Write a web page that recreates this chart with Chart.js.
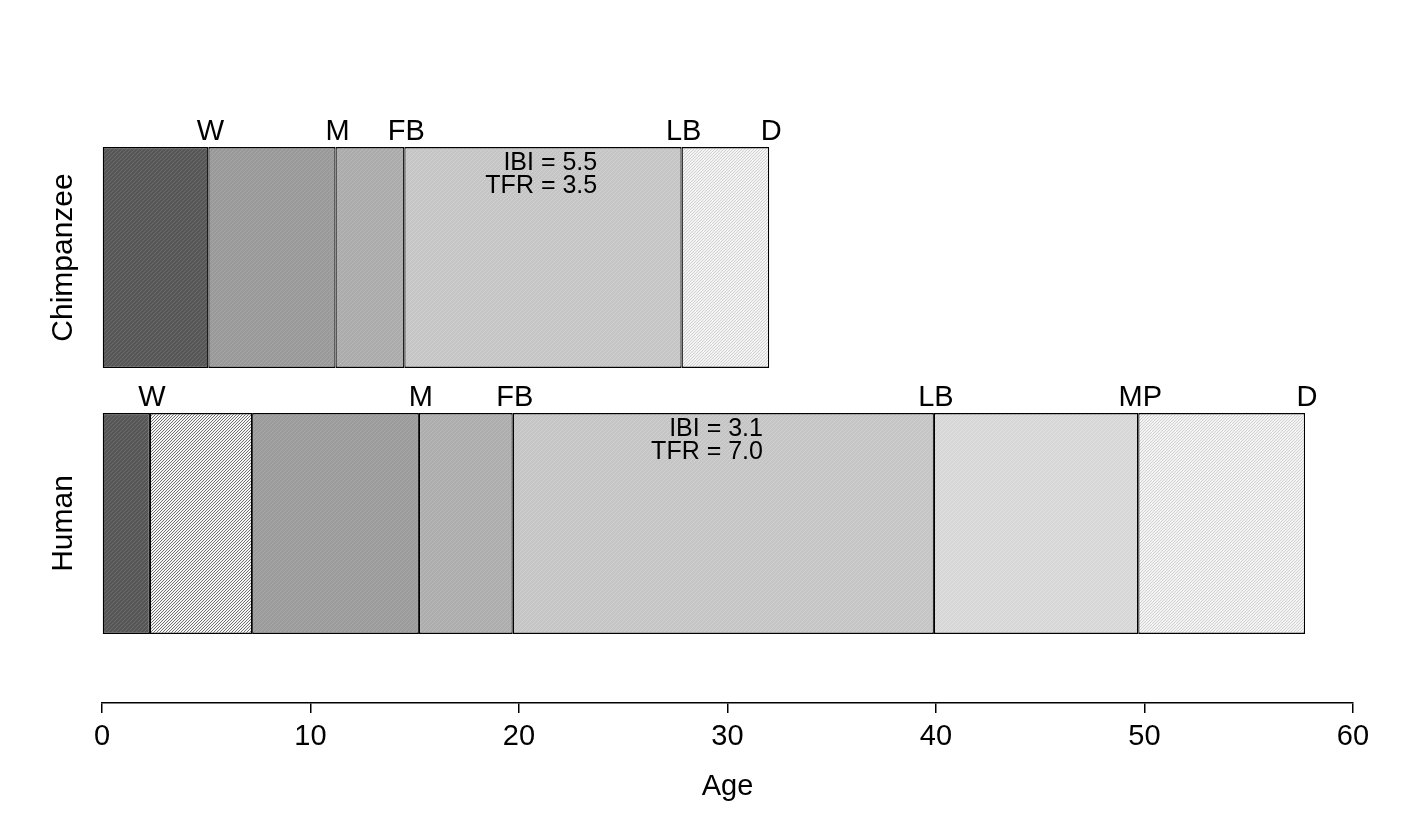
<!DOCTYPE html>
<html>
<head>
<meta charset="utf-8">
<script src="https://cdn.jsdelivr.net/npm/chart.js@4.4.1/dist/chart.umd.min.js"></script>
<style>
  html, body { margin: 0; padding: 0; background: #fff; }
  #wrap { width: 1406px; height: 829px; }
</style>
</head>
<body>
<div id="wrap"><canvas id="lifeChart"></canvas></div>
<script>
// life history milestones (age in years)
const species = ['Chimpanzee', 'Human'];
const chimpAges = [0, 5.1, 11.2, 14.5, 27.8, 32.0];
const humanAges = [0, 2.3, 7.2, 15.2, 19.7, 39.9, 49.7, 57.7];
const chimpMarks = ['W', 'M', 'FB', 'LB', 'D'];
const humanMarks = ['W', '', 'M', 'FB', 'LB', 'MP', 'D'];
const ibiValues = ['5.5', '3.1'];
const tfrValues = ['3.5', '7.0'];
const ageTicks = [0, 10, 20, 30, 40, 50, 60];

const FONT = '"Liberation Sans", Arial, sans-serif';
const ctx = document.getElementById('lifeChart').getContext('2d');

function hatch(base, line, gap, lw) {
  const c = document.createElement('canvas');
  c.width = gap; c.height = gap;
  const g = c.getContext('2d');
  g.fillStyle = base;
  g.fillRect(0, 0, gap, gap);
  g.strokeStyle = line;
  g.lineWidth = lw;
  g.beginPath();
  g.moveTo(-1, gap + 1); g.lineTo(gap + 1, -1);
  g.moveTo(-1, 1); g.lineTo(1, -1);
  g.moveTo(gap - 1, gap + 1); g.lineTo(gap + 1, gap - 1);
  g.stroke();
  return ctx.createPattern(c, 'repeat');
}

const chimpFills = [
  hatch('#575757', '#6b6b6b', 4, 1),
  hatch('#999999', '#a7a7a7', 4, 1),
  hatch('#ababab', '#b8b8b8', 4, 1),
  hatch('#c5c5c5', '#d0d0d0', 4, 1),
  hatch('#f3f3f3', '#d2d2d2', 3, 1)
];
const humanFills = [
  hatch('#575757', '#6b6b6b', 4, 1),
  hatch('#f6f6f6', '#707070', 3, 1),
  hatch('#9b9b9b', '#a9a9a9', 4, 1),
  hatch('#adadad', '#bababa', 4, 1),
  hatch('#c5c5c5', '#d0d0d0', 4, 1),
  hatch('#d7d7d7', '#e1e1e1', 4, 1),
  hatch('#f3f3f3', '#d2d2d2', 3, 1)
];

const segs = [];
const fills = [];
chimpAges.slice(1).forEach((a, i) => { segs.push({ x: [chimpAges[i], a], y: 0 }); fills.push(chimpFills[i]); });
humanAges.slice(1).forEach((a, i) => { segs.push({ x: [humanAges[i], a], y: 1 }); fills.push(humanFills[i]); });

const markPlugin = {
  id: 'marks',
  afterDatasetsDraw(chart) {
    const c = chart.ctx;
    const x = chart.scales.x, y = chart.scales.y;
    const half = chart.getDatasetMeta(0).data[0].height / 2;
    const noteRight = [23.75, 31.7];
    c.save();
    c.fillStyle = '#000';
    [[chimpAges, chimpMarks], [humanAges, humanMarks]].forEach(([ages, marks], row) => {
      const mid = y.getPixelForValue(row);
      const top = mid - half;
      c.font = '29px ' + FONT;
      c.textAlign = 'center';
      c.textBaseline = 'alphabetic';
      marks.forEach((m, i) => c.fillText(m, x.getPixelForValue(ages[i + 1]) + 2, top - 7));

      c.font = '25px ' + FONT;
      c.textAlign = 'right';
      const rx = x.getPixelForValue(noteRight[row]);
      c.fillText('IBI = ' + ibiValues[row], rx, top + 23.5);
      c.fillText('TFR = ' + tfrValues[row], rx, top + 46);

      c.save();
      c.font = '30px ' + FONT;
      c.textAlign = 'center';
      c.translate(72, mid);
      c.rotate(-Math.PI / 2);
      c.fillText(species[row], 0, 0);
      c.restore();
    });
    c.restore();
  }
};

new Chart(ctx, {
  type: 'bar',
  data: {
    datasets: [{
      data: segs,
      backgroundColor: fills,
      borderColor: '#000',
      borderWidth: { top: 1.5, bottom: 1.5, left: 1.25, right: 1.25 },
      borderSkipped: false,
      barPercentage: 0.831,
      categoryPercentage: 1
    }]
  },
  options: {
    indexAxis: 'y',
    responsive: true,
    maintainAspectRatio: false,
    animation: false,
    layout: { padding: { left: 102, right: 53, top: 124.5, bottom: 0 } },
    plugins: {
      legend: { display: false },
      tooltip: { enabled: false }
    },
    scales: {
      y: {
        type: 'linear',
        reverse: true,
        offset: false,
        min: -0.5,
        max: 1.675,
        display: false,
        afterBuildTicks: s => { s.ticks = species.map((n, i) => ({ value: i })); }
      },
      x: {
        type: 'linear',
        min: 0,
        max: 60,
        position: 'bottom',
        afterFit: s => { s.height = 126; },
        afterBuildTicks: s => { s.ticks = ageTicks.map(v => ({ value: v })); },
        grid: { drawOnChartArea: false, drawTicks: true, tickLength: 10, color: '#000', lineWidth: 1.5 },
        border: { display: true, color: '#000', width: 1.5 },
        ticks: { color: '#000', font: { family: FONT, size: 29 }, padding: 7, maxRotation: 0 },
        title: {
          display: true,
          text: 'Age',
          color: '#000',
          font: { family: FONT, size: 29 },
          padding: { top: 0, bottom: 25 }
        }
      }
    }
  },
  plugins: [markPlugin]
});
</script>
</body>
</html>
